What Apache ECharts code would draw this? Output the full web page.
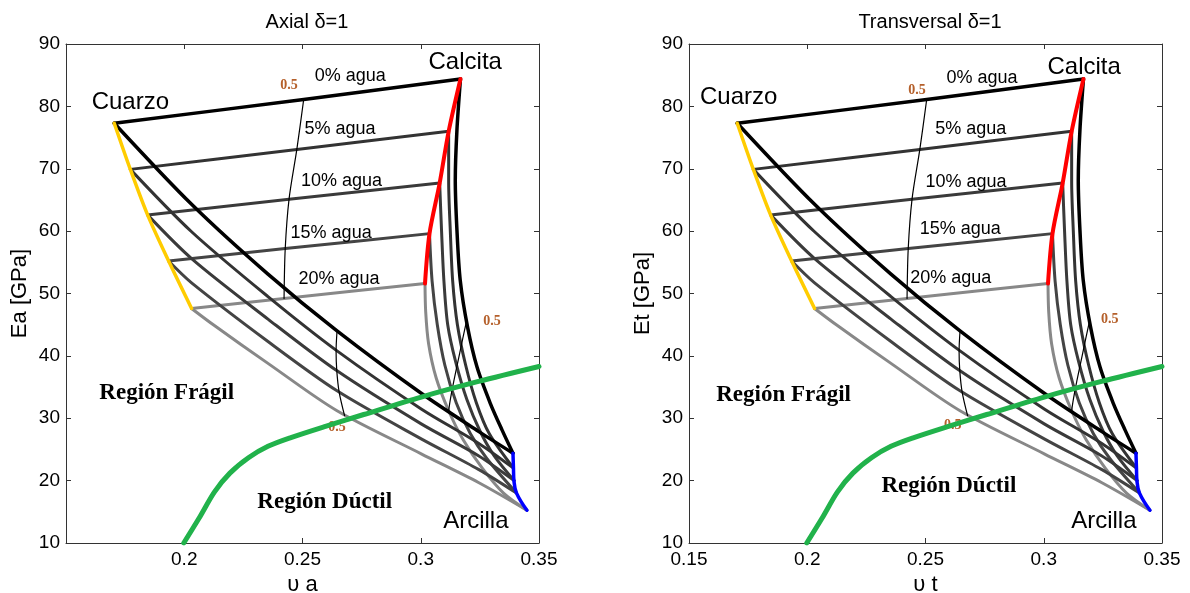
<!DOCTYPE html>
<html><head><meta charset="utf-8">
<script src="https://cdn.jsdelivr.net/npm/echarts@6/dist/echarts.min.js"></script>
<style>html,body{margin:0;padding:0;background:#fff}#c{width:1190px;height:593px}</style>
</head><body><div id="c"></div>
<script>
// ---------- DATA ----------
const panelTitles = ['Axial \u03b4=1', 'Transversal \u03b4=1'];
const yNames = ['Ea [GPa]', 'Et [GPa]'];
const xNames = ['\u03c5 a', '\u03c5 t'];
const xRange = [0.15, 0.35];
const yRange = [10, 90];
const waterLevels = ['0%', '5%', '10%', '15%', '20%'];

// Cuarzo -> Calcita (lines of constant water content)
const quartzCalciteLines = [
  [[0.1704, 77.3], [0.2505, 81.1], [0.3168, 84.4]],
  [[0.1772, 69.9], [0.2476, 73.1], [0.3118, 76.0]],
  [[0.1845, 62.6], [0.2443, 65.1], [0.3080, 67.7]],
  [[0.1934, 55.2], [0.2427, 57.2], [0.3037, 59.6]],
  [[0.2031, 47.6], [0.2422, 49.2], [0.3018, 51.6]]
];
// Cuarzo -> Arcilla
const quartzClayLines = [
  [[0.1704, 77.3], [0.2031, 64.3], [0.2354, 53.1], [0.2646, 44.0], [0.3002, 34.0], [0.3244, 27.9], [0.3390, 24.4]],
  [[0.1772, 69.9], [0.2031, 59.9], [0.2354, 49.5], [0.2646, 40.8], [0.3002, 31.5], [0.3244, 26.0], [0.3392, 22.0]],
  [[0.1845, 62.6], [0.2031, 55.6], [0.2354, 45.9], [0.2646, 37.6], [0.3002, 29.1], [0.3244, 24.0], [0.3395, 20.0]],
  [[0.1934, 55.2], [0.2031, 51.7], [0.2354, 42.3], [0.2646, 34.4], [0.3002, 26.7], [0.3244, 21.8], [0.3405, 18.0]],
  [[0.2031, 47.6], [0.2126, 44.9], [0.2354, 38.8], [0.2646, 31.2], [0.3002, 24.3], [0.3244, 19.7], [0.3449, 15.25]]
];
// Calcita -> Arcilla
const calciteClayLines = [
  [[0.3168, 84.4], [0.3153, 76.2], [0.3146, 68.2], [0.3153, 60.2], [0.3167, 52.1], [0.3198, 44.6], [0.3238, 38.2], [0.3294, 32.4], [0.3344, 28.1], [0.3390, 24.4]],
  [[0.3118, 76.0], [0.3118, 68.0], [0.3125, 60.0], [0.3135, 52.0], [0.3155, 45.0], [0.3190, 38.5], [0.3235, 32.5], [0.3290, 27.5], [0.3392, 22.0]],
  [[0.3080, 67.7], [0.3088, 60.0], [0.3098, 52.0], [0.3114, 45.0], [0.3148, 39.0], [0.3195, 33.0], [0.3250, 28.0], [0.3310, 24.0], [0.3395, 20.0]],
  [[0.3037, 59.6], [0.3048, 52.0], [0.3070, 45.0], [0.3102, 38.5], [0.3150, 32.5], [0.3210, 27.5], [0.3280, 23.5], [0.3405, 18.0]],
  [[0.3018, 51.6], [0.3021, 47.0], [0.3033, 42.0], [0.3065, 36.5], [0.3118, 31.2], [0.3180, 26.5], [0.3260, 22.0], [0.3350, 18.0], [0.3449, 15.25]]
];
// mineral + water edges
const quartzWater = [[0.1704, 77.3], [0.1772, 69.9], [0.1845, 62.6], [0.1934, 55.2], [0.2031, 47.6]];
const calciteWater = [[0.3168, 84.4], [0.3118, 76.0], [0.3080, 67.7], [0.3037, 59.6], [0.3018, 51.6]];
const clayWater = [[0.3390, 24.4], [0.3392, 22.0], [0.3394, 20.0], [0.3405, 18.0], [0.3449, 15.25]];
// 0.5 mixing isolines
const isoQuartzCalcite = [[0.2505, 81.1], [0.2476, 73.1], [0.2443, 65.1], [0.2427, 57.2], [0.2422, 49.2]];
const isoQuartzClay = [[0.2646, 44.0], [0.2642, 40.8], [0.2645, 37.6], [0.2655, 34.2], [0.2678, 30.4]];
const isoCalciteClay = [[0.3193, 45.5], [0.3165, 40.5], [0.3140, 36.0], [0.3125, 33.0], [0.3118, 31.2]];
// brittle / ductile boundary
const ductileBoundary = [[0.1998, 10.0], [0.2063, 14.0], [0.2128, 18.2], [0.2193, 21.2], [0.2273, 23.7], [0.2354, 25.5], [0.2451, 26.9], [0.2597, 28.7], [0.2759, 30.6], [0.3002, 33.4], [0.3244, 35.9], [0.3500, 38.3]];

// annotations [text, x, y]
const mineralLabels = [
  [['Cuarzo', 0.1772, 80.7], ['Calcita', 0.3188, 87.1], ['Arcilla', 0.3233, 13.5]],
  [['Cuarzo', 0.1710, 81.4], ['Calcita', 0.3171, 86.2], ['Arcilla', 0.3254, 13.5]]
];
const waterLabels = [
  [['0% agua', 0.2702, 84.9], ['5% agua', 0.2659, 76.4], ['10% agua', 0.2665, 68.0], ['15% agua', 0.2621, 59.7], ['20% agua', 0.2654, 52.3]],
  [['0% agua', 0.2739, 84.6], ['5% agua', 0.2691, 76.3], ['10% agua', 0.2671, 67.9], ['15% agua', 0.2647, 60.3], ['20% agua', 0.2607, 52.5]]
];
const regionLabels = [
  [['Regi\u00f3n Fr\u00e1gil', 0.1926, 34.0], ['Regi\u00f3n D\u00factil', 0.2594, 16.5]],
  [['Regi\u00f3n Fr\u00e1gil', 0.1900, 33.7], ['Regi\u00f3n D\u00factil', 0.2599, 19.1]]
];
const ratioLabels = [
  [['0.5', 0.2443, 83.4], ['0.5', 0.3301, 45.5], ['0.5', 0.2646, 28.5]],
  [['0.5', 0.2464, 82.5], ['0.5', 0.3279, 45.9], ['0.5', 0.2615, 28.8]]
];

// ---------- STYLE ----------
const SANS = "'Liberation Sans', Arial, sans-serif";
const SERIF = "'Liberation Serif', 'Times New Roman', serif";
const waterColors = ['#000000', '#333333', '#3a3a3a', '#444444', '#888888'];
const waterWidths = [3.5, 3, 3, 3, 3];
const AX = '#333333';

const grids = [
  { left: 66, top: 44, width: 473, height: 499, outerBoundsMode: 'none', containLabel: false },
  { left: 689, top: 44, width: 473, height: 499, outerBoundsMode: 'none', containLabel: false }
];

const fmt = v => String(+(+v).toFixed(2));

function xAxisCfg(g, pos, main) {
  return {
    type: 'value', gridIndex: g, position: pos, min: xRange[0], max: xRange[1], interval: 0.05,
    axisLine: { show: true, onZero: false, lineStyle: { color: AX, width: 1 } },
    axisTick: { show: true, inside: true, length: 5, lineStyle: { color: AX } },
    axisLabel: { show: main, color: '#000', fontSize: 19, fontFamily: SANS, margin: 7,
      showMinLabel: g === 1, showMaxLabel: true, formatter: fmt },
    splitLine: { show: false },
    name: main ? xNames[g] : '', nameLocation: 'middle', nameGap: 28,
    nameTextStyle: { color: '#000', fontSize: 22, fontFamily: SANS }
  };
}
function yAxisCfg(g, pos, main) {
  return {
    type: 'value', gridIndex: g, position: pos, min: yRange[0], max: yRange[1], interval: 10,
    axisLine: { show: true, onZero: false, lineStyle: { color: AX, width: 1 } },
    axisTick: { show: true, inside: true, length: 5, lineStyle: { color: AX } },
    axisLabel: { show: main, color: '#000', fontSize: 19, fontFamily: SANS, margin: 6 },
    splitLine: { show: false },
    name: main ? yNames[g] : '', nameLocation: 'middle', nameGap: 35,
    nameTextStyle: { color: '#000', fontSize: 22, fontFamily: SANS }
  };
}

const xAxes = [], yAxes = [];
[0, 1].forEach(g => {
  xAxes.push(xAxisCfg(g, 'bottom', true), xAxisCfg(g, 'top', false));
  yAxes.push(yAxisCfg(g, 'left', true), yAxisCfg(g, 'right', false));
});

function line(g, pts, color, width, smooth, z) {
  return {
    type: 'line', xAxisIndex: g * 2, yAxisIndex: g * 2, data: pts, symbol: 'none', showSymbol: false,
    smooth: smooth, silent: true, z: z, animation: false,
    lineStyle: { color: color, width: width, cap: 'round', join: 'round' }
  };
}
function labels(g, items, style, z) {
  return {
    type: 'scatter', xAxisIndex: g * 2, yAxisIndex: g * 2, symbolSize: 1, silent: true, z: z, animation: false,
    itemStyle: { color: 'rgba(255,255,255,0)', opacity: 1 },
    label: Object.assign({ show: true, position: 'inside', formatter: '{b}', opacity: 1,
      textBorderWidth: 0, textShadowBlur: 0 }, style),
    data: items.map(d => ({ name: d[0], value: [d[1], d[2]] }))
  };
}

const series = [];
[0, 1].forEach(g => {
  for (let i = waterLevels.length - 1; i >= 0; i--) {
    series.push(line(g, quartzClayLines[i], waterColors[i], waterWidths[i], 0.3, 2));
    series.push(line(g, calciteClayLines[i], waterColors[i], waterWidths[i], 0.3, 2));
    series.push(line(g, quartzCalciteLines[i], waterColors[i], waterWidths[i], 0.2, 2));
  }
  series.push(line(g, isoQuartzCalcite, '#000', 1.2, 0.3, 3));
  series.push(line(g, isoQuartzClay, '#000', 1.2, 0.3, 3));
  series.push(line(g, isoCalciteClay, '#000', 1.2, 0.3, 3));
  series.push(line(g, quartzWater, '#ffcc00', 3.5, 0.3, 3));
  series.push(line(g, calciteWater, '#ff0000', 4, 0.3, 3));
  series.push(line(g, clayWater, '#0000ff', 3.5, 0.4, 3));
  series.push(labels(g, ratioLabels[g], { color: '#b5602b', fontSize: 14, fontWeight: 'bold', fontFamily: SERIF }, 3));
  series.push(line(g, ductileBoundary, '#21b24b', 5, 0.3, 4));
  series.push(labels(g, mineralLabels[g], { color: '#000', fontSize: 24, fontFamily: SANS }, 5));
  series.push(labels(g, waterLabels[g], { color: '#000', fontSize: 18, fontFamily: SANS }, 5));
  series.push(labels(g, regionLabels[g], { color: '#000', fontSize: 23, fontWeight: 'bold', fontFamily: SERIF }, 5));
});

const chart = echarts.init(document.getElementById('c'), null, { renderer: 'canvas' });
chart.setOption({
  backgroundColor: '#ffffff',
  animation: false,
  title: [
    { text: panelTitles[0], left: 302, top: 7, textAlign: 'center', textStyle: { color: '#000', fontSize: 20, fontWeight: 'normal', fontFamily: SANS } },
    { text: panelTitles[1], left: 925, top: 7, textAlign: 'center', textStyle: { color: '#000', fontSize: 20, fontWeight: 'normal', fontFamily: SANS } }
  ],
  grid: grids,
  xAxis: xAxes,
  yAxis: yAxes,
  series: series
});
</script></body></html>
